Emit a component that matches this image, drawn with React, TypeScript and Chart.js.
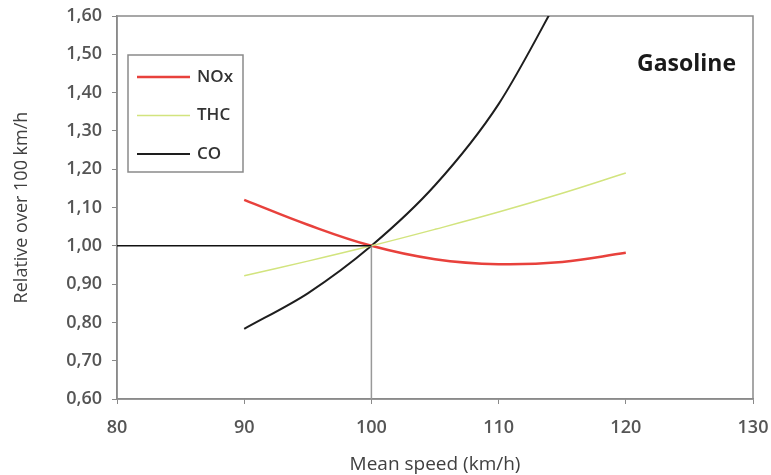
import React, { useEffect, useRef } from "react";
import { Chart, registerables } from "chart.js";

Chart.register(...registerables);

const speeds = [90, 95, 100, 105, 110, 115, 120];
const noxValues = [1.12, 1.055, 1.0, 0.965, 0.952, 0.958, 0.982];
const thcValues = [0.922, 0.96, 1.0, 1.043, 1.088, 1.137, 1.19];
const coValues = [0.783, 0.876, 1.0, 1.158, 1.37, 1.665, null];
const seriesNames = ["NOx", "THC", "CO"];
const refHorizX = [80, 100];
const refLevel = 1.0;
const refVertY = [0.6, 1.0];
const refSpeed = 100;
const panelLabel = "Gasoline";
const xTitle = "Mean speed (km/h)";
const yTitle = "Relative over 100 km/h";

const FONT = "'Open Sans', 'Liberation Sans', sans-serif";

const legendPlugin = {
  id: "boxLegend",
  afterDraw(chart: any) {
    const { ctx, chartArea } = chart;
    const x0 = chartArea.left + 11;
    const y0 = chartArea.top + 39;
    const w = 115;
    const h = 117;
    ctx.save();
    ctx.fillStyle = "#ffffff";
    ctx.fillRect(x0, y0, w, h);
    ctx.strokeStyle = "#8a8a8a";
    ctx.lineWidth = 1.5;
    ctx.strokeRect(x0, y0, w, h);
    seriesNames.forEach((name, i) => {
      const ds = chart.data.datasets.find((d: any) => d.label === name);
      const yy = y0 + 22 + i * 38.5;
      ctx.beginPath();
      ctx.strokeStyle = ds.borderColor;
      ctx.lineWidth = ds.borderWidth;
      ctx.moveTo(x0 + 9, yy);
      ctx.lineTo(x0 + 62, yy);
      ctx.stroke();
      ctx.fillStyle = "#333333";
      ctx.font = `600 17px ${FONT}`;
      ctx.textBaseline = "middle";
      ctx.textAlign = "left";
      ctx.fillText(name, x0 + 69, yy);
    });
    ctx.font = `bold 23px ${FONT}`;
    ctx.fillStyle = "#1a1a1a";
    ctx.textAlign = "right";
    ctx.textBaseline = "middle";
    ctx.fillText(panelLabel, chartArea.right - 17, chartArea.top + 48);
    ctx.restore();
  },
};

const framePlugin = {
  id: "frame",
  beforeDatasetsDraw(chart: any) {
    const { ctx, chartArea } = chart;
    ctx.save();
    ctx.strokeStyle = "#8a8a8a";
    ctx.lineWidth = 1.5;
    ctx.strokeRect(chartArea.left, chartArea.top, chartArea.right - chartArea.left, chartArea.bottom - chartArea.top);
    ctx.restore();
  },
};

export default function App() {
  const ref = useRef<HTMLCanvasElement>(null);
  useEffect(() => {
    if (!ref.current) return;
    const pts = (vals: (number | null)[]) => speeds.map((s, i) => ({ x: s, y: vals[i] }));
    const chart = new Chart(ref.current, {
      type: "line",
      data: {
        datasets: [
          {
            label: "ref-h",
            data: refHorizX.map((x) => ({ x, y: refLevel })),
            borderColor: "#111111",
            borderWidth: 1.5,
            pointRadius: 0,
            tension: 0,
          },
          {
            label: "ref-v",
            data: refVertY.map((y) => ({ x: refSpeed, y })),
            borderColor: "#999999",
            borderWidth: 1.5,
            pointRadius: 0,
            tension: 0,
          },
          {
            label: seriesNames[1],
            data: pts(thcValues),
            borderColor: "#d2e47e",
            borderWidth: 1.5,
            pointRadius: 0,
            tension: 0.4,
          },
          {
            label: seriesNames[0],
            data: pts(noxValues),
            borderColor: "#e8413c",
            borderWidth: 2.5,
            pointRadius: 0,
            tension: 0.4,
          },
          {
            label: seriesNames[2],
            data: pts(coValues),
            borderColor: "#1e1e1e",
            borderWidth: 2,
            pointRadius: 0,
            tension: 0.3,
          },
        ] as any,
      },
      options: {
        animation: false,
        responsive: false,
        layout: { padding: { top: 16, right: 18, left: 0, bottom: 0 } },
        plugins: { legend: { display: false }, tooltip: { enabled: false } },
        scales: {
          x: {
            type: "linear",
            min: 80,
            max: 130,
            ticks: { stepSize: 10, color: "#555555", font: { size: 18, family: FONT, weight: "600" }, padding: 13, maxRotation: 0 },
            grid: { drawOnChartArea: false, tickLength: 5, color: "#8a8a8a" },
            border: { color: "#8a8a8a", width: 1.5 },
            title: { display: true, text: xTitle, color: "#404040", font: { size: 19, family: FONT }, padding: { top: 0, bottom: -1 } },
            afterFit(scale: any) {
              scale.height = 76;
              scale.paddingLeft = 0;
              scale.paddingRight = 0;
            },
          },
          y: {
            min: 0.6,
            max: 1.6,
            ticks: {
              stepSize: 0.1,
              color: "#555555",
              font: { size: 18, family: FONT, weight: "600" },
              padding: 10,
              callback: (v: any) => Number(v).toFixed(2).replace(".", ","),
            },
            grid: { drawOnChartArea: false, tickLength: 5, color: "#8a8a8a" },
            border: { color: "#8a8a8a", width: 1.5 },
            title: { display: true, text: yTitle, color: "#404040", font: { size: 18, family: FONT }, padding: { top: 11, bottom: 0 } },
            afterFit(scale: any) {
              scale.width = 117;
              scale.paddingTop = 0;
              scale.paddingBottom = 0;
            },
          },
        },
      },
      plugins: [framePlugin, legendPlugin],
    });
    return () => chart.destroy();
  }, []);
  return (
    <div style={{ position: "absolute", left: 0, top: 0, width: 771, height: 475, background: "#fff" }}>
      <canvas ref={ref} width={771} height={475} style={{ display: "block" }} />
    </div>
  );
}
